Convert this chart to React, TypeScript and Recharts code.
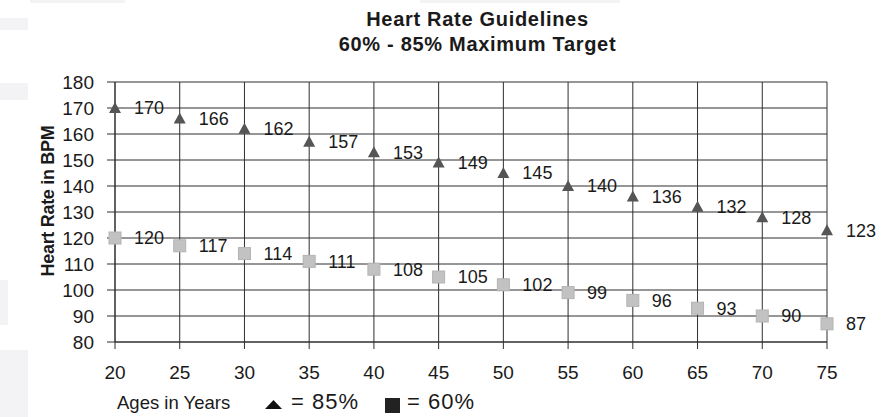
import React from 'react';
import { ScatterChart, Scatter, XAxis, YAxis, CartesianGrid } from 'recharts';

const ages = [20, 25, 30, 35, 40, 45, 50, 55, 60, 65, 70, 75];
const max85 = [170, 166, 162, 157, 153, 149, 145, 140, 136, 132, 128, 123];
const max60 = [120, 117, 114, 111, 108, 105, 102, 99, 96, 93, 90, 87];
const yTicks = [80, 90, 100, 110, 120, 130, 140, 150, 160, 170, 180];

const data85 = ages.map((age, i) => ({ age, bpm: max85[i] }));
const data60 = ages.map((age, i) => ({ age, bpm: max60[i] }));

const FONT = '"Liberation Sans", Arial, sans-serif';
const INK = '#1a1a1a';

function TriangleMark(props: any) {
  const { cx, cy, payload } = props;
  return (
    <g>
      <polygon points={`${cx - 6},${cy + 5} ${cx + 6},${cy + 5} ${cx},${cy - 6}`} fill="#555555" />
      <text x={cx + 19} y={cy} dy="0.35em" fontSize={18} fill={INK} fontFamily={FONT}>
        {payload.bpm}
      </text>
    </g>
  );
}

function SquareMark(props: any) {
  const { cx, cy, payload } = props;
  return (
    <g>
      <rect x={cx - 6} y={cy - 6} width={12} height={12} fill="#c2c2c2" stroke="#b3b3b3" strokeWidth={1} />
      <text x={cx + 19} y={cy} dy="0.35em" fontSize={18} fill={INK} fontFamily={FONT}>
        {payload.bpm}
      </text>
    </g>
  );
}

const block = (left: number, top: number, width: number, height: number) => (
  <div style={{ position: 'absolute', left, top, width, height, background: '#f3f3f5' }} />
);

export default function App() {
  return (
    <div style={{ position: 'fixed', left: 0, top: 0, width: 882, height: 417, background: '#fff', fontFamily: FONT, overflow: 'hidden', color: INK }}>
      {block(0, 18, 28, 12)}
      {block(0, 83, 28, 17)}
      {block(0, 280, 8, 45)}
      {block(0, 350, 28, 67)}
      {block(30, 0, 95, 3)}
      {block(420, 0, 200, 3)}
      <div style={{ position: 'absolute', top: 0, left: 0 }}>
        <ScatterChart width={882} height={417} margin={{ top: 82, right: 55, bottom: 33, left: 0 }}>
          <CartesianGrid stroke="#2e2e2e" strokeWidth={1} horizontal vertical />
          <XAxis
            type="number"
            dataKey="age"
            domain={[20, 75]}
            ticks={ages}
            interval={0}
            height={42}
            tickSize={7}
            tickMargin={17}
            axisLine={{ stroke: '#2e2e2e' }}
            tickLine={{ stroke: '#2e2e2e' }}
            tick={{ fill: INK, fontSize: 19, fontFamily: FONT }}
          />
          <YAxis
            type="number"
            dataKey="bpm"
            domain={[80, 180]}
            ticks={yTicks}
            interval={0}
            width={115}
            tickSize={8}
            tickMargin={13}
            axisLine={{ stroke: '#2e2e2e' }}
            tickLine={{ stroke: '#2e2e2e' }}
            tick={{ fill: INK, fontSize: 19, fontFamily: FONT }}
          />
          <Scatter name="85%" data={data85} shape={TriangleMark} isAnimationActive={false} />
          <Scatter name="60%" data={data60} shape={SquareMark} isAnimationActive={false} />
        </ScatterChart>
      </div>
      <div
        style={{
          position: 'absolute',
          left: 48 - 100,
          top: 201 - 11,
          width: 200,
          height: 22,
          lineHeight: '22px',
          textAlign: 'center',
          transform: 'rotate(-90deg)',
          fontWeight: 'bold',
          fontSize: 18,
          letterSpacing: -0.3,
          whiteSpace: 'nowrap',
        }}
      >
        Heart Rate in BPM
      </div>
      <div style={{ position: 'absolute', left: 0, width: 955, top: 7, textAlign: 'center', fontWeight: 'bold', fontSize: 20, letterSpacing: 0.7, lineHeight: '25px' }}>
        Heart Rate Guidelines
        <br />
        60% - 85% Maximum Target
      </div>
      <div style={{ position: 'absolute', left: 117, top: 392, fontSize: 18.5, whiteSpace: 'nowrap' }}>
        Ages in Years
      </div>
      <svg style={{ position: 'absolute', left: 0, top: 0 }} width={882} height={417}>
        <polygon points="265,409 282,409 273.5,400" fill="#111" />
        <rect x={385} y={398} width={15} height={15} fill="#222" />
      </svg>
      <div style={{ position: 'absolute', left: 291, top: 389, fontSize: 22, letterSpacing: 1, whiteSpace: 'nowrap' }}>
        = 85%
      </div>
      <div style={{ position: 'absolute', left: 407, top: 389, fontSize: 22, letterSpacing: 1, whiteSpace: 'nowrap' }}>
        = 60%
      </div>
    </div>
  );
}
